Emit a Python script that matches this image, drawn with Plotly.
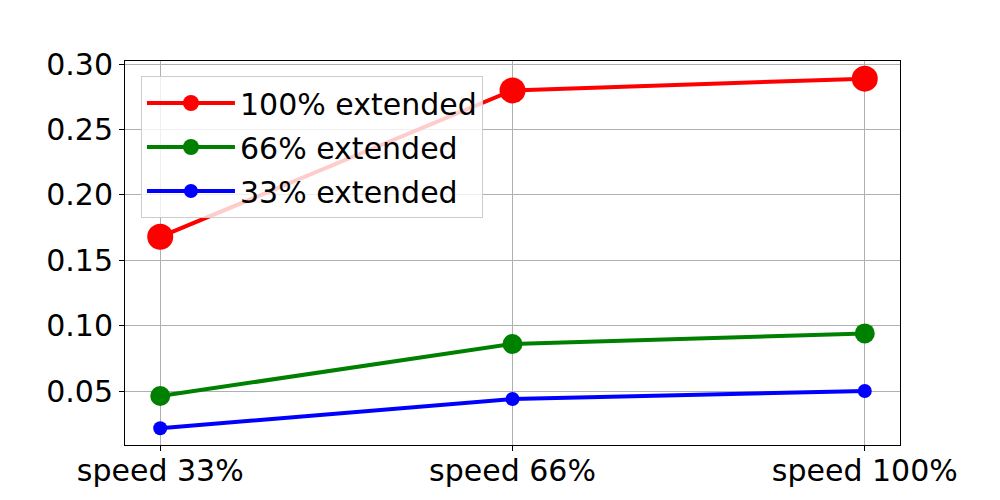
import plotly.graph_objects as go

categories = ["speed 33%", "speed 66%", "speed 100%"]
series_names = ["100% extended", "66% extended", "33% extended"]
ext100 = [0.168, 0.280, 0.289]
ext66 = [0.0462, 0.086, 0.0941]
ext33 = [0.0215, 0.0439, 0.050]
colors = ["#ff0000", "#008000", "#0000ff"]
marker_sizes = [26, 20, 14]
y_ticks = [0.05, 0.10, 0.15, 0.20, 0.25, 0.30]

xpos = list(range(len(categories)))
fig = go.Figure()
for i, (name, vals, c, ms) in enumerate(zip(series_names, [ext100, ext66, ext33], colors, marker_sizes)):
    fig.add_trace(go.Scatter(
        x=xpos, y=vals, name=name, mode="lines+markers",
        legendgroup=f"g{i}",
        line=dict(color=c, width=4),
        marker=dict(color=c, size=ms),
    ))

axis_common = dict(
    showline=True, linecolor="black", linewidth=1, mirror=True,
    ticks="outside", ticklen=5, tickcolor="black", tickwidth=1,
    showgrid=True, gridcolor="#b0b0b0", gridwidth=1,
    zeroline=False,
    tickfont=dict(size=30, color="black", family="DejaVu Sans"),
)
fig.update_xaxes(range=[-0.1, 2.1], tickvals=xpos, ticktext=categories,
                 ticklabelstandoff=-6, **axis_common)
fig.update_yaxes(range=[0.0087, 0.3025], tickvals=y_ticks, tickformat=".2f", **axis_common)

fig.update_layout(
    width=1000, height=500,
    margin=dict(l=117, r=108, t=53, b=63),
    paper_bgcolor="white", plot_bgcolor="white",
    font=dict(family="DejaVu Sans", color="black"),
    legend=dict(
        x=0.0206, y=0.961, xanchor="left", yanchor="top",
        bgcolor="rgba(255,255,255,0.8)", bordercolor="#cccccc", borderwidth=1,
        font=dict(size=30, family="DejaVu Sans", color="black"),
        itemsizing="trace", itemwidth=88, tracegroupgap=2,
    ),
    showlegend=True,
)

fig.write_html("out.html")
